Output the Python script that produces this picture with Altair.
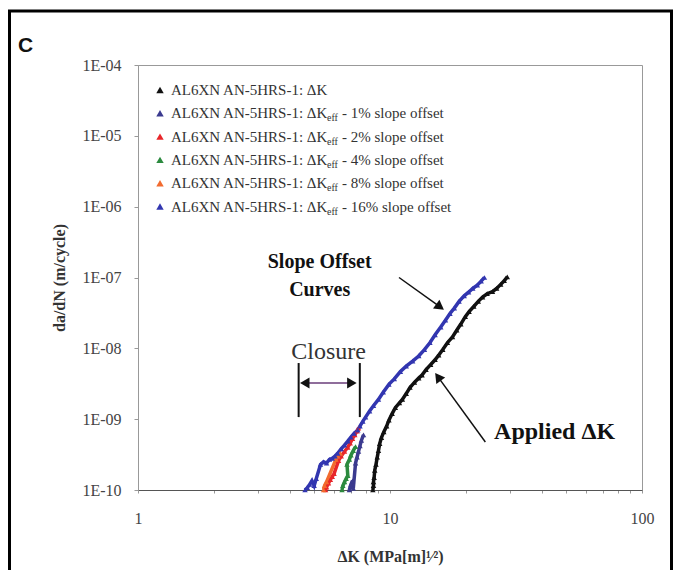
import altair as alt
import pandas as pd

SERIF = "Liberation Serif"

# ---------------- axis ticks ----------------
x_ticks = [1, 10, 100]
x_minor = [2, 3, 4, 5, 6, 7, 8, 9, 20, 30, 40, 50, 60, 70, 80, 90]
y_ticks = [1e-10, 1e-9, 1e-8, 1e-7, 1e-6, 1e-5, 1e-4]

# ---------------- series ----------------
series_names = ["applied", "off1", "off2", "off4", "off8", "off16"]
series_colors = ["#111111", "#3b3a8f", "#e8262a", "#2b8a3e", "#f26b2f", "#3236b0"]
legend_main = ["AL6XN AN-5HRS-1: \u0394K"] + ["AL6XN AN-5HRS-1: \u0394K"] * 5
legend_sub = ["", "eff", "eff", "eff", "eff", "eff"]
legend_tail = ["", " - 1% slope offset", " - 2% slope offset", " - 4% slope offset",
               " - 8% slope offset", " - 16% slope offset"]

applied_dk = [8.55, 8.6, 8.6, 8.65, 8.7, 8.8, 8.9, 9.0, 9.1, 9.25, 9.45, 9.7, 9.9, 10.2, 10.5,
              10.9, 11.2, 11.6, 12.0, 12.5, 13.0, 13.4, 13.9, 14.5, 15.1, 15.6, 16.2, 16.9,
              17.7, 18.4, 19.1, 19.9, 20.6, 21.5, 22.4, 23.3, 24.3, 25.5, 26.5, 27.5, 28.4, 29.2]
applied_rate = [1.0e-10, 1.15e-10, 1.3e-10, 1.5e-10, 1.9e-10, 2.3e-10, 2.9e-10, 3.6e-10,
                4.5e-10, 5.5e-10, 6.6e-10, 8.0e-10, 9.7e-10, 1.2e-9, 1.45e-9, 1.7e-9, 1.9e-9,
                2.3e-9, 2.8e-9, 3.3e-9, 3.8e-9, 4.2e-9, 5.0e-9, 5.9e-9, 6.9e-9, 8.0e-9, 9.6e-9,
                1.2e-8, 1.45e-8, 1.8e-8, 2.2e-8, 2.8e-8, 3.3e-8, 3.9e-8, 4.6e-8, 5.3e-8, 5.9e-8,
                6.3e-8, 7.0e-8, 8.0e-8, 9.0e-8, 1.02e-7]

off1_dk = [6.9, 6.95, 7.0, 7.1, 7.15, 7.3, 7.4, 7.5, 7.6, 7.7, 7.85]
off1_rate = [1.0e-10, 1.1e-10, 1.2e-10, 1.35e-10, 1.05e-10, 2.4e-10, 2.9e-10, 3.5e-10,
             4.2e-10, 5.0e-10, 6.0e-10]

off2_dk = [5.55, 5.6, 5.7, 5.8, 5.9, 6.0, 6.25, 6.4, 6.6, 6.8, 6.95, 7.1, 7.25, 7.4, 7.5]
off2_rate = [1.0e-10, 1.1e-10, 1.25e-10, 1.4e-10, 1.55e-10, 1.7e-10, 2.6e-10, 3.0e-10,
             3.5e-10, 4.0e-10, 4.6e-10, 5.3e-10, 6.0e-10, 6.8e-10, 7.5e-10]

off4_dk = [6.45, 6.5, 6.6, 6.7, 6.8, 6.75, 6.9, 7.0, 7.15, 7.3]
off4_rate = [1.0e-10, 1.15e-10, 1.3e-10, 1.45e-10, 1.6e-10, 2.3e-10, 2.7e-10, 3.1e-10,
             3.6e-10, 4.1e-10]

off8_dk = [5.45, 5.5, 5.6, 6.1, 6.2, 6.35]
off8_rate = [1.0e-10, 1.15e-10, 1.3e-10, 2.7e-10, 3.0e-10, 3.3e-10]

off16_dk = [4.6, 4.7, 4.8, 4.9, 5.0, 5.1, 5.3, 5.45, 5.6, 5.75, 5.9, 6.05, 6.2, 6.4, 6.6,
            6.8, 7.0, 7.2, 7.45, 7.6, 7.8, 8.0, 8.3, 8.6, 9.0, 9.4, 9.9, 10.4, 11.0, 11.6,
            12.3, 13.0, 13.7, 14.4, 15.1, 15.9, 16.6, 17.3, 18.0, 18.8, 19.7, 20.5, 21.3,
            22.2, 23.0, 23.7]
off16_rate = [1.0e-10, 1.08e-10, 1.2e-10, 1.35e-10, 1.15e-10, 1.45e-10, 2.3e-10, 2.5e-10,
              2.4e-10, 2.7e-10, 2.8e-10, 3.0e-10, 3.3e-10, 3.8e-10, 4.3e-10, 4.9e-10,
              5.6e-10, 6.3e-10, 7.0e-10, 8.0e-10, 9.3e-10, 1.07e-9, 1.3e-9, 1.55e-9, 1.9e-9,
              2.4e-9, 3.1e-9, 3.7e-9, 4.7e-9, 5.6e-9, 6.6e-9, 7.8e-9, 9.6e-9, 1.2e-8,
              1.55e-8, 2.0e-8, 2.5e-8, 3.1e-8, 3.7e-8, 4.6e-8, 5.5e-8, 6.2e-8, 7.0e-8,
              7.8e-8, 8.9e-8, 1.0e-7]

# ---------------- annotations ----------------
arrow_x1 = [10.86, 23.9]
arrow_y1 = [1.0e-7, 4.77e-10]
arrow_x2 = [15.8, 15.5]
arrow_y2 = [3.85e-8, 3.95e-9]
head_x = [15.8, 15.5, 4.59, 7.06]
head_y = [3.85e-8, 3.95e-9, 3.24e-9, 3.24e-9]
head_angle = [126, 324, 270, 90]
closure_bar_x = [4.34, 7.59]
closure_bar_lo = 1.07e-9
closure_bar_hi = 6.2e-9
closure_arrow = [4.59, 7.06, 3.24e-9]
labels_text = ["Slope Offset", "Curves", "Closure", "Applied \u0394K"]
labels_x = [5.26, 5.26, 5.71, 45.0]
labels_y = [1.66e-7, 6.7e-8, 8.9e-9, 6.6e-10]
labels_size = [20, 20, 24, 24]
labels_weight = ["bold", "bold", "normal", "bold"]

# ---------------- build tables ----------------
rows = []
for name, dk, rate in [("applied", applied_dk, applied_rate), ("off1", off1_dk, off1_rate),
                       ("off2", off2_dk, off2_rate), ("off4", off4_dk, off4_rate),
                       ("off8", off8_dk, off8_rate), ("off16", off16_dk, off16_rate)]:
    for i, (a, b) in enumerate(zip(dk, rate)):
        rows.append({"series": name, "dk": a, "rate": b, "idx": i})
df = pd.DataFrame(rows)

xs = alt.Scale(type="log", domain=[1, 100], nice=False)
ys = alt.Scale(type="log", domain=[1e-10, 1e-4], nice=False)
cs = alt.Scale(domain=series_names, range=series_colors)

x_axis = alt.Axis(
    values=x_ticks + x_minor,
    labelExpr="indexof([1, 10, 100], datum.value) >= 0 ? format(datum.value, 'd') : ''",
    labelFont=SERIF, labelFontSize=16, labelColor="#444", labelPadding=17,
    labelFlush=False, labelOverlap=False,
    tickSize=3, tickColor="#999", domainColor="#555", grid=False,
    title="\u0394K (MPa[m]\u00b9\u2044\u00b2)", titleFont=SERIF, titleFontSize=16,
    titleFontWeight="bold", titleColor="#333", titlePadding=22,
)
y_axis = alt.Axis(
    values=y_ticks,
    labelExpr="'1E-' + (abs(round(log(datum.value)/LN10)) < 10 ? '0' : '') + abs(round(log(datum.value)/LN10))",
    labelFont=SERIF, labelFontSize=16, labelColor="#444", labelPadding=13,
    labelOverlap=False, labelFlush=False,
    tickSize=4, tickColor="#999", domainColor="#999", grid=False,
    title="da/dN (m/cycle)", titleFont=SERIF, titleFontSize=16,
    titleFontWeight="bold", titleColor="#333", titlePadding=14,
)


def X(field):
    return alt.X(field, scale=xs, axis=x_axis)


def Y(field):
    return alt.Y(field, scale=ys, axis=y_axis)


base = alt.Chart(df)
lines = base.mark_line(strokeWidth=3.5).encode(
    x=X("dk:Q"), y=Y("rate:Q"),
    color=alt.Color("series:N", scale=cs, legend=None),
    detail="series:N",
    order="idx:Q",
)
points = base.mark_point(shape="triangle-up", filled=True, size=30, opacity=1).encode(
    x=X("dk:Q"), y=Y("rate:Q"),
    color=alt.Color("series:N", scale=cs, legend=None),
)

# legend (drawn manually for the subscript)
leg = pd.DataFrame({
    "row": list(range(6)),
    "color": series_colors,
    "main": legend_main,
    "sub": legend_sub,
    "tail": legend_tail,
})
leg["py"] = 25 + 23.3 * leg["row"]
legbase = alt.Chart(leg)
leg_sym = legbase.mark_point(shape="triangle-up", filled=True, size=55, opacity=1).encode(
    x=alt.value(22), y=alt.Y("py:Q", scale=None), color=alt.Color("color:N", scale=None))
leg_main = legbase.mark_text(align="left", baseline="middle", font=SERIF, fontSize=15,
                             color="#333").encode(
    x=alt.value(33), y=alt.Y("py:Q", scale=None), text="main:N")
leg_sub = legbase.mark_text(align="left", baseline="middle", font=SERIF, fontSize=10,
                            dy=5, color="#333").encode(
    x=alt.value(189), y=alt.Y("py:Q", scale=None), text="sub:N")
leg_tail = legbase.mark_text(align="left", baseline="middle", font=SERIF, fontSize=15,
                             color="#333").encode(
    x=alt.value(204), y=alt.Y("py:Q", scale=None), text="tail:N")

# annotations
arr_df = pd.DataFrame({"x1": arrow_x1, "y1": arrow_y1, "x2": arrow_x2, "y2": arrow_y2})
arrows = alt.Chart(arr_df).mark_rule(color="#111", strokeWidth=1.5).encode(
    x=X("x1:Q"), y=Y("y1:Q"), x2="x2:Q", y2="y2:Q")
heads_df = pd.DataFrame({"x": head_x, "y": head_y, "ang": head_angle})
heads = alt.Chart(heads_df).mark_point(shape="triangle-up", filled=True, size=120,
                                       color="#111", opacity=1).encode(
    x=X("x:Q"), y=Y("y:Q"), angle=alt.Angle("ang:Q", scale=None))
bars_df = pd.DataFrame({"x": closure_bar_x, "lo": [closure_bar_lo] * 2, "hi": [closure_bar_hi] * 2})
bars = alt.Chart(bars_df).mark_rule(color="#111", strokeWidth=2).encode(
    x=X("x:Q"), y=Y("lo:Q"), y2="hi:Q")
cl_df = pd.DataFrame({"x1": [closure_arrow[0]], "x2": [closure_arrow[1]], "y": [closure_arrow[2]]})
cl_line = alt.Chart(cl_df).mark_rule(color="#6a3d7a", strokeWidth=1.5).encode(
    x=X("x1:Q"), x2="x2:Q", y=Y("y:Q"))

lab_df = pd.DataFrame({"t": labels_text, "x": labels_x, "y": labels_y,
                       "s": labels_size, "w": labels_weight})
lab_bold = alt.Chart(lab_df[lab_df.w == "bold"]).mark_text(font=SERIF, fontWeight="bold",
                                                           color="#111").encode(
    x=X("x:Q"), y=Y("y:Q"), text="t:N", size=alt.Size("s:Q", scale=None, legend=None))
lab_norm = alt.Chart(lab_df[lab_df.w == "normal"]).mark_text(font=SERIF, color="#333").encode(
    x=X("x:Q"), y=Y("y:Q"), text="t:N", size=alt.Size("s:Q", scale=None, legend=None))

one = pd.DataFrame({"a": [0]})
frame = alt.Chart(one).mark_rect(fill="transparent", stroke="black", strokeWidth=3).encode(
    x=alt.value(-128.5), x2=alt.value(533.5), y=alt.value(-54), y2=alt.value(520))
panel = alt.Chart(one).mark_text(font="Liberation Sans", fontSize=21, fontWeight="bold",
                                 align="left", baseline="alphabetic", color="#111").encode(
    x=alt.value(-120), y=alt.value(-13), text=alt.value("C"))

chart = alt.layer(
    lines, points, leg_sym, leg_main, leg_sub, leg_tail,
    bars, cl_line, arrows, heads, lab_bold, lab_norm, frame, panel
).properties(
    width=504, height=425,
    padding={"left": 130, "top": 57, "right": 31, "bottom": 80},
    autosize="none",
).configure_view(stroke="#999", strokeWidth=1)

chart.save("out.html", embed_options={"renderer": "svg", "actions": False})
